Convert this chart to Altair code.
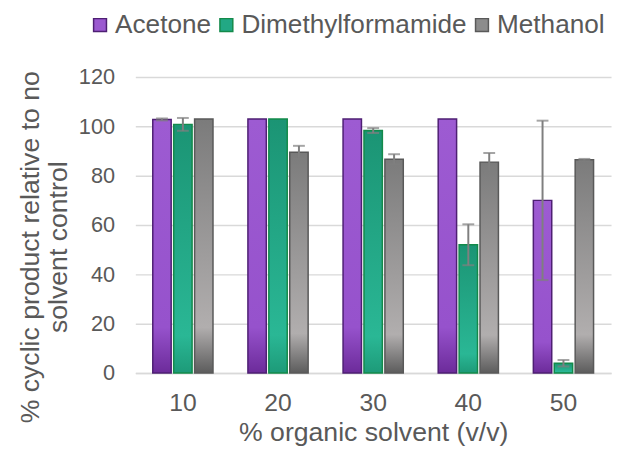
import altair as alt
import pandas as pd

categories = ["10", "20", "30", "40", "50"]
series = ["Acetone", "Dimethylformamide", "Methanol"]
acetone = [102.8, 103.0, 103.0, 103.0, 70.0]
acetone_err = [0.4, 0.0, 0.0, 0.0, 32.3]
dmf = [100.8, 103.0, 98.3, 52.0, 4.0]
dmf_err = [2.6, 0.0, 1.0, 8.3, 1.3]
methanol = [103.0, 89.5, 86.7, 85.5, 86.5]
methanol_err = [0.0, 2.6, 2.0, 3.7, 0.3]

rows = []
for name, vals, errs in zip(series, [acetone, dmf, methanol], [acetone_err, dmf_err, methanol_err]):
    for c, v, e in zip(categories, vals, errs):
        rows.append({"cat": c, "series": name, "value": v, "err": e, "lo": v - e, "hi": v + e})
df = pd.DataFrame(rows)

FONT = "Liberation Sans"
TXT = "#595959"

def grad(stops):
    return {"gradient": "linear", "x1": 0, "y1": 0, "x2": 0, "y2": 1,
            "stops": [{"offset": o, "color": c} for o, c in stops]}

grads = {
    "Acetone": grad([(0, "#9d5bd2"), (0.82, "#9652cc"), (1, "#6c2b9a")]),
    "Dimethylformamide": grad([(0, "#1b9474"), (0.85, "#2ab795"), (1, "#1d9a78")]),
    "Methanol": grad([(0, "#7b7b7b"), (0.82, "#b1aeae"), (1, "#5c5c5c")]),
}
fill_colors = ["#9b59d0", "#22a884", "#8c8c8c"]
stroke_colors = ["#4e1f73", "#138a4a", "#595959"]

x_enc = alt.X("cat:N", sort=categories, title="% organic solvent (v/v)",
              scale=alt.Scale(paddingInner=0.367, paddingOuter=0.1835),
              axis=alt.Axis(labelAngle=0, labelFontSize=25, labelPadding=18, ticks=False,
                            domainColor="#d9d9d9", domainWidth=1.5, titleFontSize=27,
                            titlePadding=4, grid=False))
xo_enc = alt.XOffset("series:N", sort=series,
                     scale=alt.Scale(paddingInner=0.12, paddingOuter=0))

cond = [{"test": f"datum.series === '{s}'", "value": grads[s]} for s in series]

bars = alt.Chart(df).mark_bar(strokeWidth=1.5).encode(
    x=x_enc,
    xOffset=xo_enc,
    y=alt.Y("value:Q", title=["% cyclic product relative to no", "solvent control"],
            scale=alt.Scale(domain=[0, 120], nice=False),
            axis=alt.Axis(values=[0, 20, 40, 60, 80, 100, 120], labelFontSize=22,
                          labelPadding=21, ticks=False, domain=False,
                          gridColor="#d9d9d9", gridWidth=1.5, titleFontSize=27,
                          titleLineHeight=28, titlePadding=6, titleY=172)),
    fill=alt.Fill("series:N", sort=series,
                  scale=alt.Scale(domain=series, range=fill_colors),
                  legend=alt.Legend(title=None), condition=cond),
    stroke=alt.Stroke("series:N", sort=series,
                      scale=alt.Scale(domain=series, range=stroke_colors),
                      legend=alt.Legend(title=None)),
)

err_data = alt.Chart(df).transform_filter("datum.err > 0")

rules = err_data.mark_rule(color="#7f7f7f", strokeWidth=2).encode(
    x=alt.X("cat:N", sort=categories),
    xOffset=alt.XOffset("series:N", sort=series),
    y="lo:Q",
    y2="hi:Q",
)
caps_hi = err_data.mark_tick(color="#7f7f7f", thickness=2, size=12).encode(
    x=alt.X("cat:N", sort=categories),
    xOffset=alt.XOffset("series:N", sort=series),
    y="hi:Q",
)
caps_lo = err_data.mark_tick(color="#7f7f7f", thickness=2, size=12).encode(
    x=alt.X("cat:N", sort=categories),
    xOffset=alt.XOffset("series:N", sort=series),
    y="lo:Q",
)

chart = alt.layer(bars, rules, caps_hi, caps_lo).properties(
    width=482, height=300,
    autosize=alt.AutoSizeParams(type="none"),
    padding={"left": 129, "top": 67, "right": 2, "bottom": 73},
).configure_view(stroke=None).configure_axis(
    labelFont=FONT, titleFont=FONT, labelColor=TXT, titleColor=TXT, titleFontWeight="normal"
).configure_legend(
    orient="none", legendX=-49, legendY=-66, direction="horizontal", padding=0,
    labelFont=FONT, labelFontSize=26.5, labelColor=TXT, symbolType="square",
    symbolSize=170, symbolStrokeWidth=1.5, columnPadding=2, labelOffset=2,
    labelLimit=400,
)

chart.save("out.html", embed_options={"renderer": "svg", "actions": False})
